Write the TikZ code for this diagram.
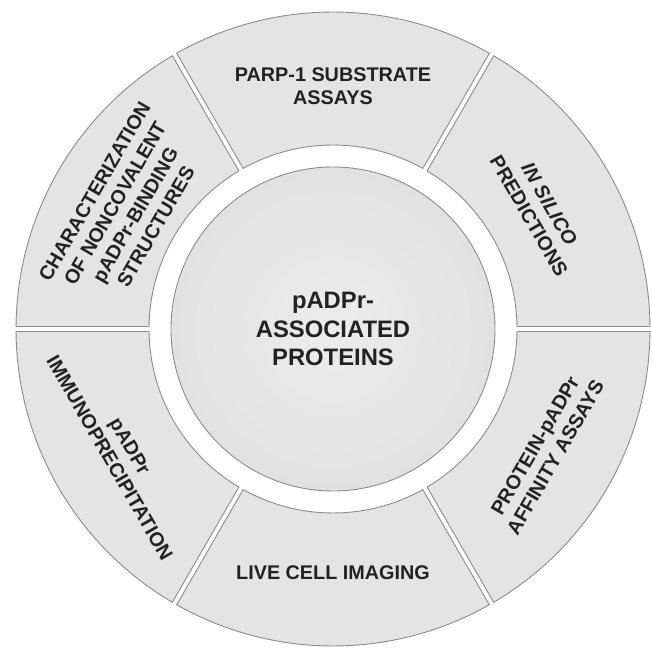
\documentclass[tikz,border=0pt]{standalone}
\usepackage{fontspec}
\setmainfont{Liberation Sans}
\usepackage{xcolor}
\usepackage{tikz}
\definecolor{ringfill}{RGB}{228,228,228}
\definecolor{ringline}{RGB}{140,140,140}
\definecolor{hubin}{RGB}{236,236,236}
\definecolor{hubout}{RGB}{226,226,226}
\definecolor{inktext}{RGB}{34,34,34}

\begin{document}
\begin{tikzpicture}[x=1pt,y=1pt]
    \tikzstyle{segment}=[draw=ringline, line width=0.9pt, fill=ringfill]
    \tikzstyle{segtext}=[text=inktext, align=center, font=\bfseries\fontsize{19.8}{23.5}\selectfont]
    \tikzstyle{hub}=[circle, draw=ringline, line width=0.9pt, inner color=hubin, outer color=hubout, minimum size=324pt, text=inktext, align=center, font=\bfseries\fontsize{23.8}{28.5}\selectfont]
\useasboundingbox (-333,-318) rectangle (319,329);

% six ring pieces
\foreach \a in {0,60,...,300} {
    \draw[segment] ({\a+0.78}:184) -- ({\a+0.45}:317)
        arc[start angle={\a+0.45}, end angle={\a+59.55}, radius=317]
        -- ({\a+59.22}:184)
        arc[start angle={\a+59.22}, end angle={\a+0.78}, radius=184] -- cycle;
}

\node[hub] (hub) at (0,0) {pADPr-\\ASSOCIATED\\PROTEINS};

\node[segtext] (parp) at (90:243) {PARP-1 SUBSTRATE\\ASSAYS};
\node[segtext, rotate=-60] (silico) at (30:238) {\textit{IN SILICO}\\PREDICTIONS};
\node[segtext, rotate=60] (affinity) at (-30:245) {PROTEIN-pADPr\\AFFINITY ASSAYS};
\node[segtext] (live) at (-90:244) {LIVE CELL IMAGING};
\node[segtext, rotate=-60] (immuno) at (210:246) {pADPr\\IMMUNOPRECIPITATION};
\node[segtext, rotate=60] (charact) at (150:240) {CHARACTERIZATION\\OF NONCOVALENT\\pADPr-BINDING\\STRUCTURES};
    ;
\end{tikzpicture}
\end{document}
